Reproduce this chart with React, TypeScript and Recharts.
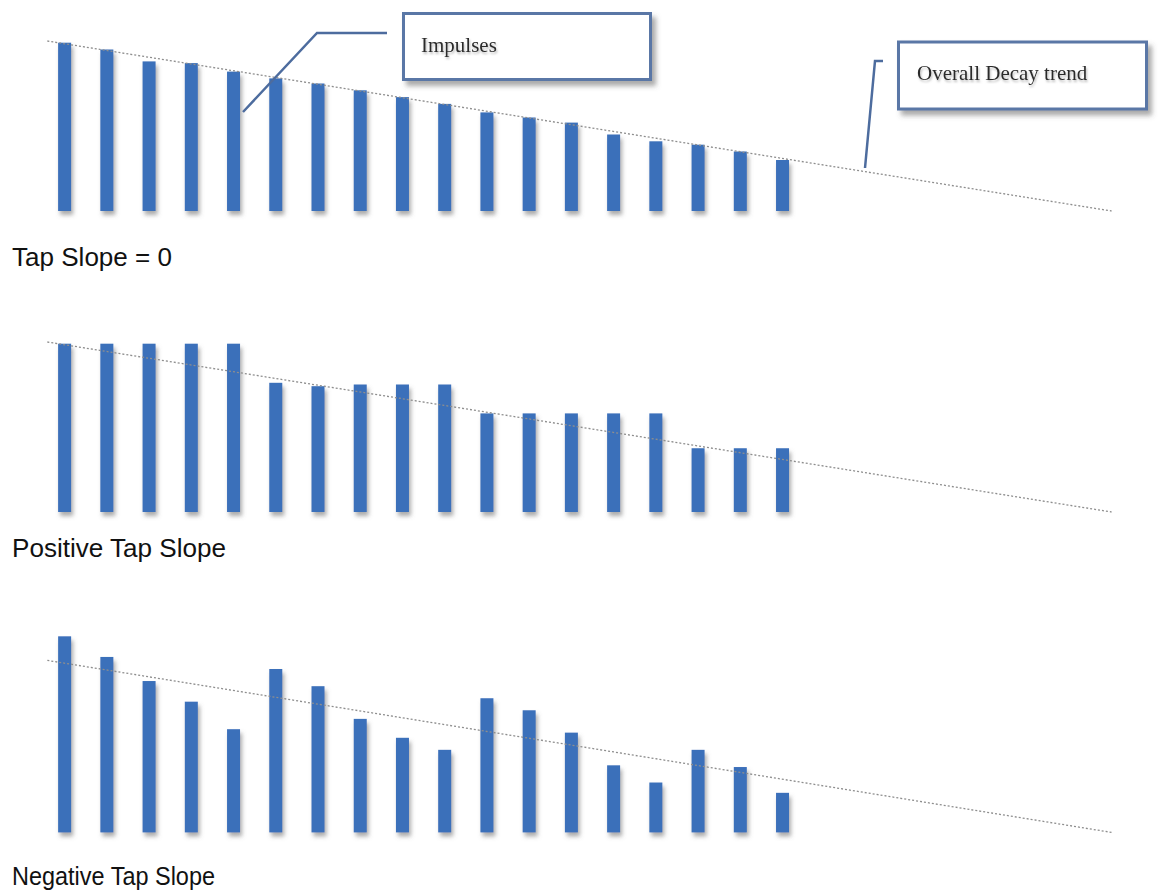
import React from 'react';
import { ComposedChart, Bar, XAxis, YAxis, ReferenceLine } from 'recharts';

// tap index of each impulse
const taps = [1, 2, 3, 4, 5, 6, 7, 8, 9, 10, 11, 12, 13, 14, 15, 16, 17, 18];

// impulse amplitudes (1 = start of the decay trend)
const flatLevels = [0.99, 0.95, 0.88, 0.87, 0.82, 0.78, 0.75, 0.71, 0.67, 0.63, 0.58, 0.55, 0.52, 0.45, 0.41, 0.39, 0.35, 0.3];
const positiveLevels = [0.99, 0.99, 0.99, 0.99, 0.99, 0.76, 0.74, 0.75, 0.75, 0.75, 0.58, 0.58, 0.58, 0.58, 0.58, 0.375, 0.375, 0.375];
const negativeLevels = [1.14, 1.02, 0.88, 0.76, 0.6, 0.95, 0.85, 0.66, 0.55, 0.48, 0.78, 0.71, 0.58, 0.39, 0.29, 0.48, 0.38, 0.23];

// overall decay trend (dotted line), same in every panel
const trendTaps = [0.6, 25.8];
const trendLevels = [1, 0];

const panelTitles = ['Tap Slope = 0', 'Positive Tap Slope', 'Negative Tap Slope'];
const calloutTexts = ['Impulses', 'Overall Decay trend'];

const W = 1160;
const H = 893;
const BAR_COLOR = '#3b6fba';
const BOX_COLOR = '#5a77a6';
const Y_DOMAIN: [number, number] = [-0.1, 1.2];
const SANS = '"Liberation Sans", Arial, sans-serif';
const SERIF = '"Liberation Serif", "Times New Roman", serif';

function ImpulseBar(props: any) {
  const { x, y, width, height, fill, shadowId } = props;
  if (height == null || height <= 0) return null;
  return <rect x={x} y={y} width={width} height={height} fill={fill} filter={`url(#${shadowId})`} />;
}

function DecayPanel({ id, levels, baseline, unit }: { id: string; levels: number[]; baseline: number; unit: number }) {
  const data = taps.map((tap, i) => ({ tap, level: levels[i] }));
  const pad = 10;
  const top = baseline - Y_DOMAIN[1] * unit;
  const bottom = baseline - Y_DOMAIN[0] * unit;
  const height = bottom - top + 2 * pad;

  return (
    <div style={{ position: 'absolute', left: 0, top: top - pad }}>
      <ComposedChart width={W} height={height} data={data} margin={{ top: pad, right: 40, bottom: pad, left: 22 }}>
        <defs>
          <filter id={id} x="-60%" y="-10%" width="220%" height="130%">
            <feDropShadow dx="2" dy="4" stdDeviation="2.2" floodColor="#666" floodOpacity="0.55" />
          </filter>
        </defs>
        <XAxis type="number" dataKey="tap" domain={[0, 26]} hide />
        <YAxis type="number" domain={Y_DOMAIN} hide />
        <ReferenceLine
          segment={[
            { x: trendTaps[0], y: trendLevels[0] },
            { x: trendTaps[1], y: trendLevels[1] },
          ]}
          stroke="#8e8e8e"
          strokeWidth={1.3}
          strokeDasharray="2 2"
          ifOverflow="visible"
        />
        <Bar
          dataKey="level"
          fill={BAR_COLOR}
          barSize={13}
          isAnimationActive={false}
          shape={(p: any) => <ImpulseBar {...p} shadowId={id} />}
        />
      </ComposedChart>
    </div>
  );
}

export default function App() {
  return (
    <div style={{ position: 'absolute', left: 0, top: 0, width: W, height: H, background: '#fff', overflow: 'hidden' }}>
      <DecayPanel id="shadow-flat" levels={flatLevels} baseline={211} unit={170} />
      <DecayPanel id="shadow-pos" levels={positiveLevels} baseline={512} unit={170} />
      <DecayPanel id="shadow-neg" levels={negativeLevels} baseline={832} unit={172} />

      <svg width={W} height={H} style={{ position: 'absolute', left: 0, top: 0, pointerEvents: 'none' }}>
        <defs>
          <filter id="box-shadow" x="-10%" y="-20%" width="125%" height="150%">
            <feDropShadow dx="4" dy="5" stdDeviation="2.5" floodColor="#555" floodOpacity="0.5" />
          </filter>
          <filter id="text-shadow" x="-5%" y="-30%" width="115%" height="170%">
            <feDropShadow dx="1" dy="2" stdDeviation="1.2" floodColor="#888" floodOpacity="0.6" />
          </filter>
        </defs>

        {/* callout: impulses */}
        <rect x={403.5} y={13.5} width={247} height={66} fill="#fff" stroke={BOX_COLOR} strokeWidth={3} filter="url(#box-shadow)" />
        <text x={421} y={52} fontFamily={SERIF} fontSize={21} fill="#2a2a2a" filter="url(#text-shadow)">
          {calloutTexts[0]}
        </text>
        <polyline points="387,33 317,33 243,112" fill="none" stroke="#4d6c9e" strokeWidth={2.5} />

        {/* callout: overall decay trend */}
        <rect x={898.5} y={42} width={248} height={67} fill="#fff" stroke={BOX_COLOR} strokeWidth={3} filter="url(#box-shadow)" />
        <text x={917} y={80} fontFamily={SERIF} fontSize={21} fill="#2a2a2a" filter="url(#text-shadow)">
          {calloutTexts[1]}
        </text>
        <polyline points="883,61 875,61 865,168" fill="none" stroke="#4d6c9e" strokeWidth={2.5} />

        {/* panel titles */}
        <text x={12} y={266} fontFamily={SANS} fontSize={25.5} fill="#111" textLength={160} lengthAdjust="spacingAndGlyphs">
          {panelTitles[0]}
        </text>
        <text x={12} y={557} fontFamily={SANS} fontSize={26} fill="#111" textLength={214} lengthAdjust="spacingAndGlyphs">
          {panelTitles[1]}
        </text>
        <text x={12} y={885} fontFamily={SANS} fontSize={25} fill="#111" textLength={203} lengthAdjust="spacingAndGlyphs">
          {panelTitles[2]}
        </text>
      </svg>
    </div>
  );
}
